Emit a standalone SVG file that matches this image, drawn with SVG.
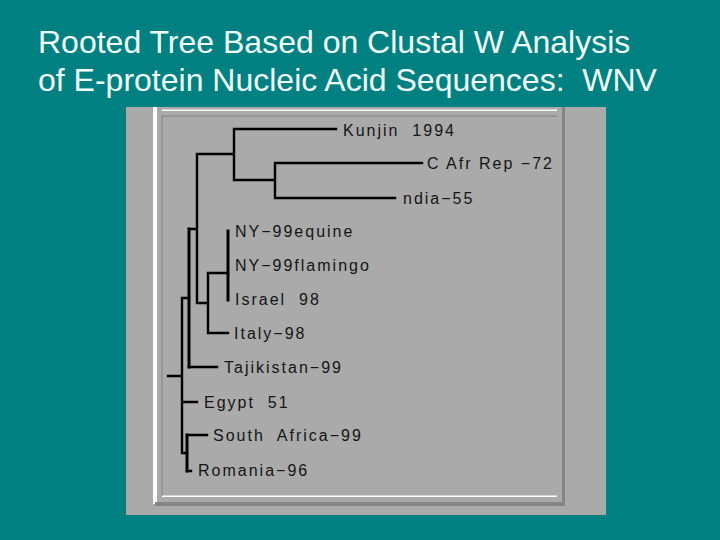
<svg xmlns="http://www.w3.org/2000/svg" width="720" height="540" viewBox="0 0 720 540">
<style>
text{white-space:pre}
.title{font-family:"Liberation Sans",Arial,sans-serif;font-size:32px;fill:#f0ffff}
.lbl{font-family:"Liberation Sans",Arial,sans-serif;font-size:16px;fill:#151515;letter-spacing:2px}
.br{fill:none;stroke:#000;stroke-width:2.4;stroke-linecap:square}
.thk{fill:none;stroke:#000;stroke-width:3;stroke-linecap:square}
</style>
<rect x="0" y="0" width="720" height="540" fill="#008080"/>
<text class="title" x="38" y="53" xml:space="preserve">Rooted Tree Based on Clustal W Analysis</text>
<text class="title" x="38" y="91" xml:space="preserve">of E-protein Nucleic Acid Sequences:  WNV</text>
<g id="panel">
<rect x="126" y="107" width="480" height="408" fill="#aaaaaa"/>
<rect x="153" y="107" width="4" height="397" fill="#ffffff"/>
<rect x="155" y="502" width="410" height="4" fill="#858585"/>
<rect x="562" y="107" width="3" height="399" fill="#858585"/>
<rect x="162" y="109.5" width="395" height="1.5" fill="#ffffff"/>
<rect x="162" y="115.5" width="395" height="1.2" fill="#888888"/>
<rect x="161.5" y="115.5" width="1.2" height="381" fill="#888888"/>
<rect x="162" y="495.5" width="395" height="1.5" fill="#ffffff"/>
</g>
<g id="connectors">
<path class="br" d="M234,129 H336 M234,129 V180 M197,154 H234 M234,180 H275 M275,163 V198 M275,163 H422 M275,198 H395 M197,154 V303 M189,229 H197 M197,303 H208 M208,273 V333 M208,273 H228 M208,333 H228 M189,367 H217 M182,298 H189 M182,298 V453 M168,376 H182 M182,402 H197 M182,453 H187 M187,435 H207 M187,471 H191"/>
<path class="thk" d="M228,231 V300 M189,229 V367 M187,435 V471"/>
</g>
<g id="kunjin"><text class="lbl" x="343" y="136" xml:space="preserve">Kunjin  1994</text></g>
<g id="cafr"><text class="lbl" x="427" y="169" xml:space="preserve">C Afr Rep −72</text></g>
<g id="india"><text class="lbl" x="403" y="204">ndia−55</text></g>
<g id="ny-equine"><text class="lbl" x="235" y="237">NY−99equine</text></g>
<g id="ny-flamingo"><text class="lbl" x="235" y="271">NY−99flamingo</text></g>
<g id="israel"><text class="lbl" x="235" y="305" xml:space="preserve">Israel  98</text></g>
<g id="italy"><text class="lbl" x="234" y="339">Italy−98</text></g>
<g id="tajikistan"><text class="lbl" x="224" y="373">Tajikistan−99</text></g>
<g id="egypt"><text class="lbl" x="204" y="408" xml:space="preserve">Egypt  51</text></g>
<g id="south-africa"><text class="lbl" x="213" y="441" xml:space="preserve">South  Africa−99</text></g>
<g id="romania"><text class="lbl" x="198" y="476">Romania−96</text></g>
</svg>
